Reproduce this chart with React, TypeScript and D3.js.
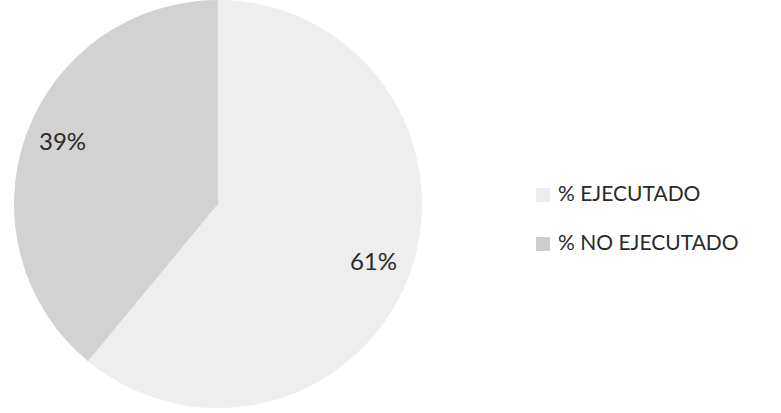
import React from "react";
import * as d3 from "d3";

const categories = ["% EJECUTADO", "% NO EJECUTADO"];
const values = [61, 39];
const labels = ["61%", "39%"];
const colors = ["#eeeeee", "#d2d2d2"];
const legendColors = ["#ececec", "#cdcdcd"];

export default function App() {
  const width = 781;
  const height = 413;
  const cx = 218;
  const cy = 204;
  const r = 204;

  const pie = d3.pie<number>().sort(null).value((d) => d);
  const arcs = pie(values);
  const arc = d3.arc<d3.PieArcDatum<number>>().innerRadius(0).outerRadius(r);
  const labelArc = d3.arc<d3.PieArcDatum<number>>().innerRadius(r * 0.81).outerRadius(r * 0.81);

  return (
    <svg width={width} height={height} style={{ position: "absolute", left: 0, top: 0, background: "#fff" }}>
      <g transform={`translate(${cx},${cy})`}>
        {arcs.map((a, i) => (
          <path key={i} d={arc(a) || ""} fill={colors[i]} />
        ))}
        {arcs.map((a, i) => {
          const [x, y] = labelArc.centroid(a);
          return (
            <text
              key={"t" + i}
              x={x}
              y={y + (i === 0 ? 4 : -4)}
              textAnchor="middle"
              dominantBaseline="middle"
              fontFamily="Lato, 'Open Sans', sans-serif"
              fontSize={24}
              fill="#2a2a2a"
            >
              {labels[i]}
            </text>
          );
        })}
      </g>
      <g transform="translate(536,195)">
        {categories.map((c, i) => (
          <g key={c} transform={`translate(0,${i * 49})`}>
            <rect x={0} y={-7} width={14} height={14} fill={legendColors[i]} />
            <text x={22} y={1} dominantBaseline="middle" fontFamily="Lato, 'Open Sans', sans-serif" fontSize={21} fill="#2a2a2a">
              {c}
            </text>
          </g>
        ))}
      </g>
    </svg>
  );
}
